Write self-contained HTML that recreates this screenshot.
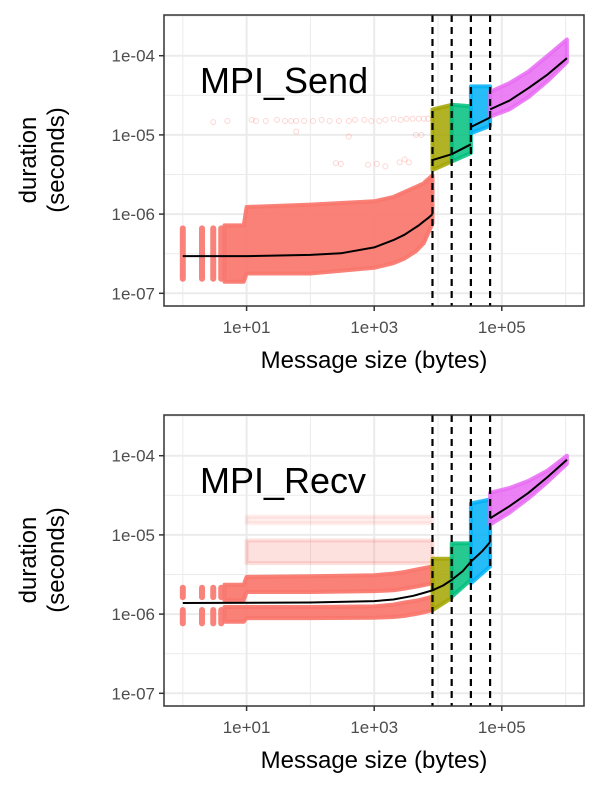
<!DOCTYPE html>
<html><head><meta charset="utf-8"><style>
html,body{margin:0;padding:0;background:#fff;}
svg{display:block;font-family:"Liberation Sans",Arial,sans-serif;}
</style></head><body>
<svg id="chart" width="600" height="800" viewBox="0 0 600 800" xmlns="http://www.w3.org/2000/svg"></svg>
<script>
// ---- data ----
const xTickValues = [10, 1000, 100000];
const xTickLabels = ["1e+01", "1e+03", "1e+05"];
const yTickValues = [1e-4, 1e-5, 1e-6, 1e-7];
const yTickLabels = ["1e-04", "1e-05", "1e-06", "1e-07"];
const breakSizes = [8192, 16384, 32768, 65536];
const colors = ["#F8766D", "#A3A500", "#00BF7D", "#00B0F6", "#E76BF3"];

// Send panel
const sendColSizes = [1, 2, 3, 4];
const sendColHigh = [7.2e-7, 7.2e-7, 7.2e-7, 7.2e-7];
const sendColLow = [1.4e-7, 1.4e-7, 1.4e-7, 1.4e-7];
const sendRedSizes = [4.5, 9, 10, 100, 1000, 2000, 3000, 4500, 6000, 8192];
const sendRedHigh = [7.2e-7, 7.2e-7, 1.23e-6, 1.32e-6, 1.45e-6, 1.65e-6, 1.9e-6, 2.2e-6, 2.45e-6, 3.1e-6];
const sendRedLow = [1.4e-7, 1.4e-7, 1.78e-7, 1.78e-7, 2.1e-7, 2.4e-7, 2.75e-7, 3.4e-7, 4.3e-7, 7.6e-7];
const sendSegSizes = [[8192, 16384], [16384, 32768], [32768, 65536], [65536, 131072, 262144, 524288, 1048576]];
const sendSegHigh = [[2.1e-5, 2.4e-5], [2.4e-5, 2.3e-5], [4.1e-5, 4.1e-5], [3.5e-5, 4.5e-5, 6.3e-5, 1.0e-4, 1.6e-4]];
const sendSegLow = [[3.6e-6, 4.6e-6], [4.6e-6, 5.9e-6], [1.05e-5, 1.3e-5], [1.7e-5, 2.1e-5, 3.0e-5, 4.8e-5, 8.3e-5]];
const sendFitSizes = [1, 10, 100, 300, 1000, 2000, 3000, 4096, 5000, 6000, 7000, 8192];
const sendFitVals = [2.95e-7, 2.95e-7, 3.05e-7, 3.2e-7, 3.8e-7, 4.7e-7, 5.5e-7, 6.5e-7, 7.2e-7, 8.1e-7, 8.9e-7, 1.0e-6];
const sendFitSeg = [[8192, 16384], [16384, 32768], [32768, 65536], [65536, 131072, 262144, 524288, 1048576]];
const sendFitSegVals = [[4.8e-6, 5.7e-6], [5.7e-6, 7.6e-6], [1.26e-5, 1.66e-5], [2.1e-5, 2.7e-5, 3.9e-5, 5.8e-5, 9.3e-5]];
const sendOutSizes = [3, 5, 12, 14, 20, 30, 40, 50, 60, 80, 110, 150, 200, 280, 400, 500, 700, 900, 1200, 1500, 2000, 2600, 3200, 4000, 5000, 6000, 7000, 60, 250, 300, 400, 800, 1100, 1500, 2500, 3000, 3500, 4500, 5500, 6500];
const sendOutVals = [1.45e-5, 1.5e-5, 1.55e-5, 1.5e-5, 1.5e-5, 1.55e-5, 1.5e-5, 1.5e-5, 1.5e-5, 1.5e-5, 1.5e-5, 1.55e-5, 1.5e-5, 1.5e-5, 1.5e-5, 1.55e-5, 1.55e-5, 1.5e-5, 1.5e-5, 1.55e-5, 1.6e-5, 1.55e-5, 1.6e-5, 1.6e-5, 1.6e-5, 1.6e-5, 1.6e-5, 1.1e-5, 4.4e-6, 4.3e-6, 9.5e-6, 4.2e-6, 4.3e-6, 4.0e-6, 4.5e-6, 4.9e-6, 4.5e-6, 1.0e-5, 1.0e-5, 2.6e-6];

// Recv panel
const recvColSizes = [1, 2, 3, 4];
const recvLoHigh = [1.23e-6, 1.23e-6, 1.23e-6, 1.23e-6];
const recvLoLow = [7.0e-7, 7.0e-7, 7.0e-7, 7.0e-7];
const recvUpHigh = [2.35e-6, 2.35e-6, 2.35e-6, 2.35e-6];
const recvUpLow = [1.5e-6, 1.5e-6, 1.5e-6, 1.5e-6];
const recvRedSizes = [4.5, 9, 10, 100, 1000, 2000, 3000, 5000, 8192];
const recvRedLoHigh = [1.23e-6, 1.23e-6, 1.23e-6, 1.23e-6, 1.25e-6, 1.32e-6, 1.4e-6, 1.5e-6, 1.66e-6];
const recvRedLoLow = [8.0e-7, 8.0e-7, 8.9e-7, 8.9e-7, 9.0e-7, 9.2e-7, 9.5e-7, 1.02e-6, 1.12e-6];
const recvRedUpHigh = [2.35e-6, 2.35e-6, 2.95e-6, 3.0e-6, 3.1e-6, 3.25e-6, 3.4e-6, 3.7e-6, 4.0e-6];
const recvRedUpLow = [1.5e-6, 1.5e-6, 1.9e-6, 1.9e-6, 1.95e-6, 2.0e-6, 2.1e-6, 2.25e-6, 2.45e-6];
const recvMidHigh = [8.5e-6, 8.5e-6, 8.5e-6, 8.5e-6, 8.5e-6, 8.5e-6, 8.5e-6, 8.5e-6, 8.5e-6];
const recvMidLow = [4.4e-6, 4.4e-6, 4.4e-6, 4.4e-6, 4.4e-6, 4.4e-6, 4.4e-6, 4.4e-6, 4.4e-6];
const recvTopHigh = [1.7e-5, 1.7e-5, 1.7e-5, 1.7e-5, 1.7e-5, 1.7e-5, 1.7e-5, 1.7e-5, 1.7e-5];
const recvTopLow = [1.4e-5, 1.4e-5, 1.4e-5, 1.4e-5, 1.4e-5, 1.4e-5, 1.4e-5, 1.4e-5, 1.4e-5];
const recvSegSizes = [[8192, 16384], [16384, 32768], [32768, 65536], [65536, 131072, 262144, 524288, 1048576]];
const recvSegHigh = [[5.0e-6, 5.0e-6], [7.8e-6, 7.8e-6], [2.5e-5, 2.8e-5], [3.4e-5, 3.9e-5, 4.8e-5, 6.5e-5, 1.0e-4]];
const recvSegLow = [[1.12e-6, 1.6e-6], [1.66e-6, 2.7e-6], [2.45e-6, 4.0e-6], [1.35e-5, 1.9e-5, 2.9e-5, 4.7e-5, 7.9e-5]];
const recvFitSizes = [1, 100, 1000, 2000, 4096, 6000, 8192, 12000, 16384, 24576, 32768, 49152, 65536];
const recvFitVals = [1.38e-6, 1.4e-6, 1.46e-6, 1.53e-6, 1.7e-6, 1.85e-6, 2.0e-6, 2.3e-6, 2.7e-6, 3.5e-6, 4.6e-6, 6.2e-6, 8.1e-6];
const recvFitSeg = [65536, 131072, 262144, 524288, 1048576];
const recvFitSegVals = [1.62e-5, 2.3e-5, 3.4e-5, 5.4e-5, 8.9e-5];

// ---- scales ----
const svg = document.getElementById('chart');
const NS = 'http://www.w3.org/2000/svg';
const PL = 164, PR = 584;
function X(s){ return 182.8 + 63.8 * Math.log10(s); }
function Yf(top){ return d => (top + 40.7) + 79.2 * (-4 - Math.log10(d)); }
function el(tag, attrs, parent){
  const e = document.createElementNS(NS, tag);
  for (const k in attrs) e.setAttribute(k, attrs[k]);
  (parent || svg).appendChild(e);
  return e;
}
function band(g, Y, sizes, hi, lo, color, op){
  let pts = sizes.map((s,i)=>X(s).toFixed(1)+','+Y(hi[i]).toFixed(1));
  for (let i=sizes.length-1;i>=0;i--) pts.push(X(sizes[i]).toFixed(1)+','+Y(lo[i]).toFixed(1));
  const p = el('polygon', {points: pts.join(' '), fill: color, 'fill-opacity': op, stroke: color, 'stroke-opacity': op, 'stroke-width': 4, 'stroke-linejoin': 'round'}, g);
  
  
}
function cols(g, Y, sizes, hi, lo, color, op){
  sizes.forEach((s,i)=>{
    const r = el('rect', {x: X(s)-3, y: Y(hi[i]), width: 6, height: Y(lo[i])-Y(hi[i]), rx: 3, fill: color, 'fill-opacity': op}, g);
    
    
  });
}
function line(g, Y, sizes, vals){
  const p = el('polyline', {points: sizes.map((s,i)=>X(s).toFixed(1)+','+Y(vals[i]).toFixed(1)).join(' '), fill: 'none', stroke: '#000', 'stroke-width': 2, 'stroke-linejoin': 'round'}, g);
  
  
}

function panel(top, title, name, draw){
  const Y = Yf(top);
  const bottom = top + 291;
  const g = el('g', {});
  
  
  el('rect', {x: PL, y: top, width: PR-PL, height: bottom-top, fill: '#fff'}, g);
  [1, 100, 1e4, 1e6].forEach(v => el('line', {x1: X(v), x2: X(v), y1: top, y2: bottom, stroke: '#ebebeb', 'stroke-width': 1}, g));
  [Math.pow(10,-3.5), Math.pow(10,-4.5), Math.pow(10,-5.5), Math.pow(10,-6.5)].forEach(v => el('line', {x1: PL, x2: PR, y1: Y(v), y2: Y(v), stroke: '#ebebeb', 'stroke-width': 1}, g));
  xTickValues.forEach(v => el('line', {x1: X(v), x2: X(v), y1: top, y2: bottom, stroke: '#ebebeb', 'stroke-width': 2}, g));
  yTickValues.forEach(v => el('line', {x1: PL, x2: PR, y1: Y(v), y2: Y(v), stroke: '#ebebeb', 'stroke-width': 2}, g));
  draw(g, Y);
  breakSizes.forEach(b => {
    const l = el('line', {x1: X(b), x2: X(b), y1: top, y2: bottom, stroke: '#000', 'stroke-width': 2.2, 'stroke-dasharray': '7,5'}, g);
    
    
  });
  el('rect', {x: PL, y: top, width: PR-PL, height: bottom-top, fill: 'none', stroke: '#333', 'stroke-width': 1.5}, g);
  xTickValues.forEach((v,i) => {
    el('line', {x1: X(v), x2: X(v), y1: bottom, y2: bottom+5, stroke: '#333', 'stroke-width': 1.5}, g);
    const t = el('text', {x: X(v), y: bottom+27, 'text-anchor': 'middle', 'font-size': 17, fill: '#4d4d4d'}, g);
    t.textContent = xTickLabels[i];
    
    
  });
  yTickValues.forEach((v,i) => {
    el('line', {x1: PL-5, x2: PL, y1: Y(v), y2: Y(v), stroke: '#333', 'stroke-width': 1.5}, g);
    const t = el('text', {x: PL-9, y: Y(v)+6, 'text-anchor': 'end', 'font-size': 17, fill: '#4d4d4d'}, g);
    t.textContent = yTickLabels[i];
    
    
  });
  const lab = el('text', {x: 200, y: top+78, 'font-size': 36, fill: '#000'}, g);
  lab.textContent = title;
  
  
  const xt = el('text', {x: 374, y: bottom+62, 'text-anchor': 'middle', 'font-size': 24, fill: '#000'}, g);
  xt.textContent = 'Message size (bytes)';
  
  
  const cy = top + 145;
  const yt = el('text', {transform: 'translate(36,'+cy+') rotate(-90)', 'text-anchor': 'middle', 'font-size': 24, fill: '#000'}, g);
  
  
  const t1 = el('tspan', {x: 0, y: 0}, yt); t1.textContent = 'duration';
  const t2 = el('tspan', {x: 0, y: 28}, yt); t2.textContent = '(seconds)';
}

panel(15, 'MPI_Send', 'send-panel', (g, Y) => {
  sendOutSizes.forEach((s,i) => {
    const c = el('circle', {cx: X(s), cy: Y(sendOutVals[i]), r: 2.5, fill: 'none', stroke: colors[0], 'stroke-opacity': 0.3}, g);
    
    
  });
  cols(g, Y, sendColSizes, sendColHigh, sendColLow, colors[0], 0.9);
  band(g, Y, sendRedSizes, sendRedHigh, sendRedLow, colors[0], 0.92);
  sendSegSizes.forEach((s,i) => band(g, Y, s, sendSegHigh[i], sendSegLow[i], colors[i+1], 0.85));
  line(g, Y, sendFitSizes, sendFitVals);
  sendFitSeg.forEach((s,i) => line(g, Y, s, sendFitSegVals[i]));
});

panel(415, 'MPI_Recv', 'recv-panel', (g, Y) => {
  band(g, Y, recvRedSizes.slice(2), recvTopHigh.slice(2), recvTopLow.slice(2), colors[0], 0.12);
  band(g, Y, recvRedSizes.slice(2), recvMidHigh.slice(2), recvMidLow.slice(2), colors[0], 0.22);
  cols(g, Y, recvColSizes, recvLoHigh, recvLoLow, colors[0], 0.9);
  cols(g, Y, recvColSizes, recvUpHigh, recvUpLow, colors[0], 0.9);
  band(g, Y, recvRedSizes, recvRedLoHigh, recvRedLoLow, colors[0], 0.92);
  band(g, Y, recvRedSizes, recvRedUpHigh, recvRedUpLow, colors[0], 0.92);
  recvSegSizes.forEach((s,i) => band(g, Y, s, recvSegHigh[i], recvSegLow[i], colors[i+1], 0.85));
  line(g, Y, recvFitSizes, recvFitVals);
  line(g, Y, recvFitSeg, recvFitSegVals);
});
</script>
</body></html>
